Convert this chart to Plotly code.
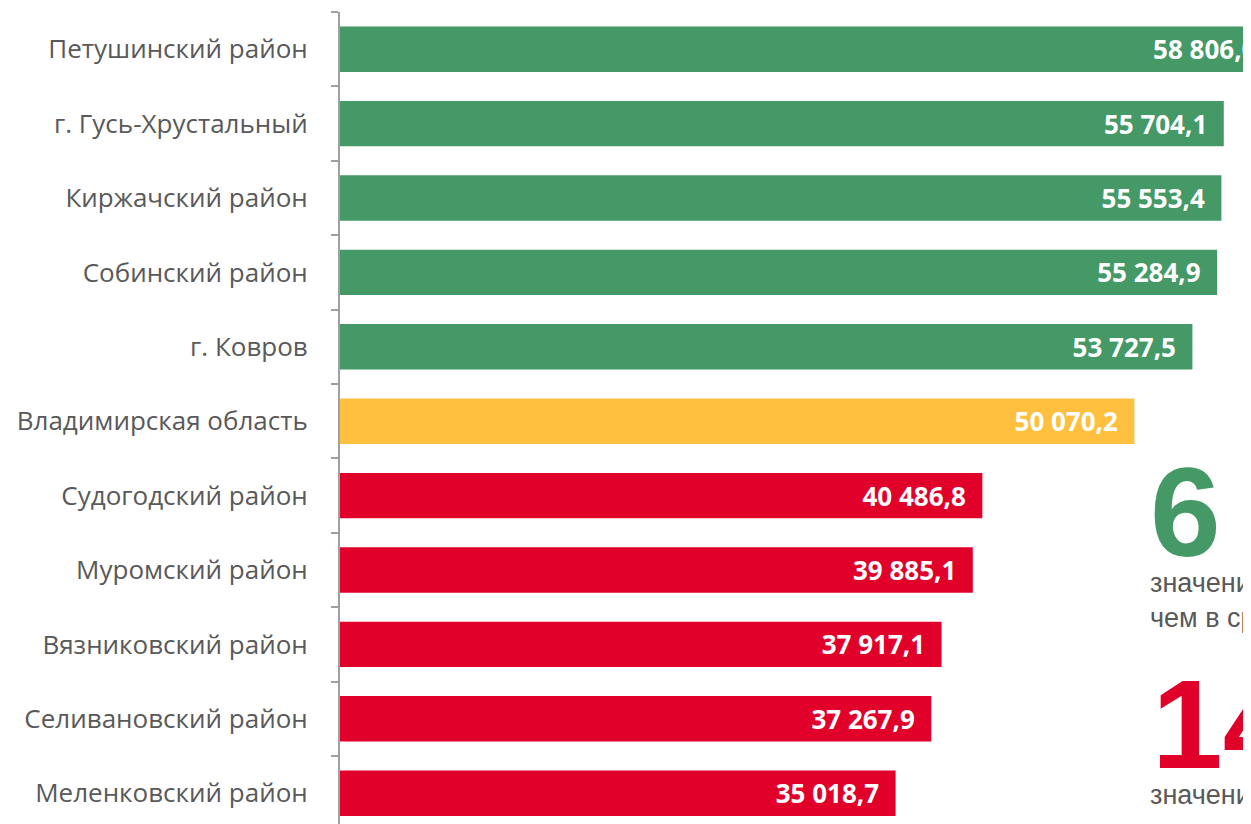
import plotly.graph_objects as go

# Data (top to bottom as shown)
districts = [
    "Петушинский район",
    "г. Гусь-Хрустальный",
    "Киржачский район",
    "Собинский район",
    "г. Ковров",
    "Владимирская область",
    "Судогодский район",
    "Муромский район",
    "Вязниковский район",
    "Селивановский район",
    "Меленковский район",
]
values = [58806.0, 55704.1, 55553.4, 55284.9, 53727.5, 50070.2,
          40486.8, 39885.1, 37917.1, 37267.9, 35018.7]
region_name = "Владимирская область"
count_above = "6"
count_below = "14"

GREEN = "#449966"
YELLOW = "#FFBF3F"
RED = "#E1002A"
GRAY = "#595959"

region_value = values[districts.index(region_name)]
colors = []
for d, v in zip(districts, values):
    if d == region_name:
        colors.append(YELLOW)
    elif v > region_value:
        colors.append(GREEN)
    else:
        colors.append(RED)

# plot bottom -> top
ys = districts[::-1]
xs = values[::-1]
cs = colors[::-1]

fig = go.Figure(go.Bar(
    x=xs, y=ys, orientation="h",
    marker=dict(color=cs, line=dict(width=0)),
    texttemplate="%{x:,.1f}\u00a0\u00a0",
    textposition="inside",
    insidetextanchor="end",
    textfont=dict(family="Open Sans", size=26, color="white", weight="bold"),
    hoverinfo="skip",
))

# page body has an 8px margin; figure sized to fill the rest of the 1251x824 window
OFF = 8
W, H = 1251 - OFF, 824 - OFF
ML, MT = 340 - OFF, 12 - OFF
plot_w = W - ML
plot_h = H - MT
ROW_PX = 74.4
y_top = 10.5
y_bottom = y_top - plot_h / ROW_PX

fig.update_layout(
    width=W, height=H,
    margin=dict(l=ML, r=0, t=MT, b=0, pad=0),
    paper_bgcolor="white", plot_bgcolor="white",
    separators=", ",
    bargap=0.39,
    showlegend=False,
    font=dict(family="Open Sans", color=GRAY),
)
fig.update_xaxes(range=[0, 57420], visible=False, showgrid=False, zeroline=False)
fig.update_yaxes(
    type="category", categoryorder="array", categoryarray=ys,
    range=[y_bottom, y_top],
    showline=True, linecolor="#a0a0a0", linewidth=2,
    ticks="outside", tickson="boundaries", ticklen=7, tickcolor="#a0a0a0", tickwidth=2,
    tickfont=dict(family="Open Sans", size=26, color=GRAY),
    ticklabelstandoff=25,
    showgrid=False, zeroline=False,
)

def px_x(p):
    return (p - OFF - ML) / plot_w

def px_y(p):
    return (H - (p - OFF)) / plot_h

ann = [
    dict(text=count_above, x=px_x(1148), y=px_y(512), xanchor="left", yanchor="middle",
         font=dict(family="Liberation Sans", size=127, color=GREEN, weight="bold")),
    dict(text="значений больше,<br>чем в среднем по области", x=px_x(1148), y=px_y(600),
         xanchor="left", yanchor="middle", align="left",
         font=dict(family="Liberation Sans", size=27, color=GRAY)),
    dict(text=count_below, x=px_x(1150), y=px_y(724), xanchor="left", yanchor="middle",
         font=dict(family="Liberation Sans", size=127, color=RED, weight="bold")),
    dict(text="значений меньше,<br>чем в среднем по области", x=px_x(1148), y=px_y(812),
         xanchor="left", yanchor="middle", align="left",
         font=dict(family="Liberation Sans", size=27, color=GRAY)),
]
for a in ann:
    a.update(xref="paper", yref="paper", showarrow=False)
fig.update_layout(annotations=ann)

fig.write_html("out.html")
